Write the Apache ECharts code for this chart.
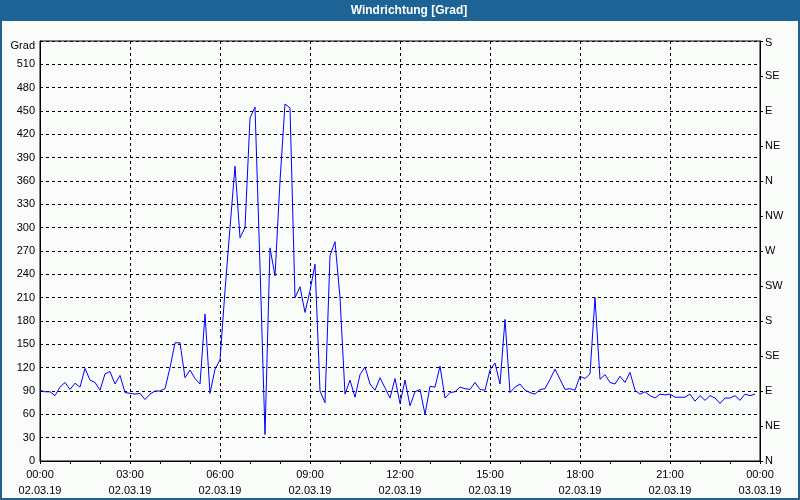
<!DOCTYPE html>
<html><head><meta charset="utf-8">
<script src="https://cdn.jsdelivr.net/npm/echarts@6.0.0/dist/echarts.min.js"></script>
<style>html,body{margin:0;padding:0;background:#fafcfa}#c{width:800px;height:500px}</style>
</head><body><div id="c"></div><script>
// wind direction in degrees, one value every 10 minutes from 00:00 02.03.19
const stepMinutes = 10;
const windDir = [
  91, 89, 89, 84, 95, 101, 92, 100, 95, 119,
  104, 101, 91, 112, 115, 99, 110, 88, 87, 86,
  87, 79, 86, 90, 90, 93, 120, 152, 152, 107,
  117, 106, 99, 189, 87, 118, 130, 219, 300, 379,
  287, 300, 441, 455, 250, 34, 274, 238, 360, 459,
  454, 210, 224, 191, 219, 253, 90, 75, 264, 282,
  210, 86, 104, 82, 111, 121, 99, 91, 107, 94,
  81, 106, 74, 104, 71, 89, 92, 60, 96, 95,
  122, 81, 88, 89, 95, 93, 92, 101, 92, 91,
  117, 126, 99, 182, 88, 95, 99, 91, 88, 86,
  92, 93, 105, 118, 105, 92, 93, 91, 109, 106,
  112, 210, 105, 111, 101, 99, 109, 101, 114, 91,
  86, 89, 84, 81, 86, 85, 86, 82, 82, 82,
  86, 77, 84, 78, 84, 81, 74, 81, 81, 84,
  78, 86, 84, 86
];
const timeLabels = ['00:00','03:00','06:00','09:00','12:00','15:00','18:00','21:00','00:00'];
const dateLabels = ['02.03.19','02.03.19','02.03.19','02.03.19','02.03.19','02.03.19','02.03.19','02.03.19','03.03.19'];
const compassLabels = ['N','NE','E','SE','S','SW','W','NW','N','NE','E','SE','S'];
const unitLabel = 'Grad';
const titleText = 'Windrichtung [Grad]';

const FONT = 'Liberation Sans';
const chart = echarts.init(document.getElementById('c'), null, {renderer:'canvas'});
chart.setOption({
  animation: false,
  backgroundColor: '#fafcfa',
  graphic: [
    {type:'rect', shape:{x:0,y:0,width:800,height:21}, style:{fill:'#1e6396'}, z:1},
    {type:'rect', shape:{x:1,y:1,width:798,height:498}, style:{fill:null, stroke:'#1e6396', lineWidth:2}, z:1},
    {type:'text', x:409, y:11, style:{text:titleText, fill:'#ffffff', font:'bold 12px "Liberation Sans"', align:'center', verticalAlign:'middle'}, z:2}
  ],
  grid: {left:40, right:40, top:41, bottom:39, show:true, borderColor:'#000', borderWidth:1, backgroundColor:'transparent'},
  xAxis: {
    type:'value', min:0, max:1440, interval:180,
    axisLine:{show:true, lineStyle:{color:'#000', width:1}},
    axisTick:{show:true, length:3, lineStyle:{color:'#000'}},
    minorTick:{show:true, splitNumber:3, length:3, lineStyle:{color:'#000'}},
    splitLine:{show:true, lineStyle:{color:'#000', type:[3,3], width:1}},
    axisLabel:{
      margin:6, color:'#000', fontFamily:FONT, fontSize:11, lineHeight:16,
      formatter: v => { const k = Math.round(v/180); return timeLabels[k] + '\n' + dateLabels[k]; }
    }
  },
  yAxis: [
    {
      type:'value', min:0, max:540, interval:30, position:'left',
      axisLine:{show:true, lineStyle:{color:'#000'}},
      axisTick:{show:false},
      splitLine:{show:true, lineStyle:{color:'#000', type:[3,3], width:1}},
      axisLabel:{
        margin:5, color:'#000', fontFamily:FONT, fontSize:11,
        formatter: v => v === 540 ? '{g|' + unitLabel + '}' : String(v),
        rich:{g:{fontFamily:FONT, fontSize:11, color:'#000', padding:[10,0,0,0]}}
      }
    },
    {
      type:'value', min:0, max:540, interval:45, position:'right',
      axisLine:{show:true, lineStyle:{color:'#000'}},
      axisTick:{show:true, length:3, inside:false, lineStyle:{color:'#000'}},
      splitLine:{show:false},
      axisLabel:{
        margin:5, color:'#000', fontFamily:FONT, fontSize:11,
        formatter: v => { const k = Math.round(v/45); return k === 12 ? '{s|' + compassLabels[k] + '}' : compassLabels[k]; },
        rich:{s:{fontFamily:FONT, fontSize:11, color:'#000', padding:[4,0,0,0]}}
      }
    }
  ],
  series: [{
    type:'line', yAxisIndex:0, showSymbol:false, symbol:'none',
    lineStyle:{color:'#0000ff', width:1},
    data: windDir.map((v,i) => [i*stepMinutes, v])
  }]
});
</script></body></html>
